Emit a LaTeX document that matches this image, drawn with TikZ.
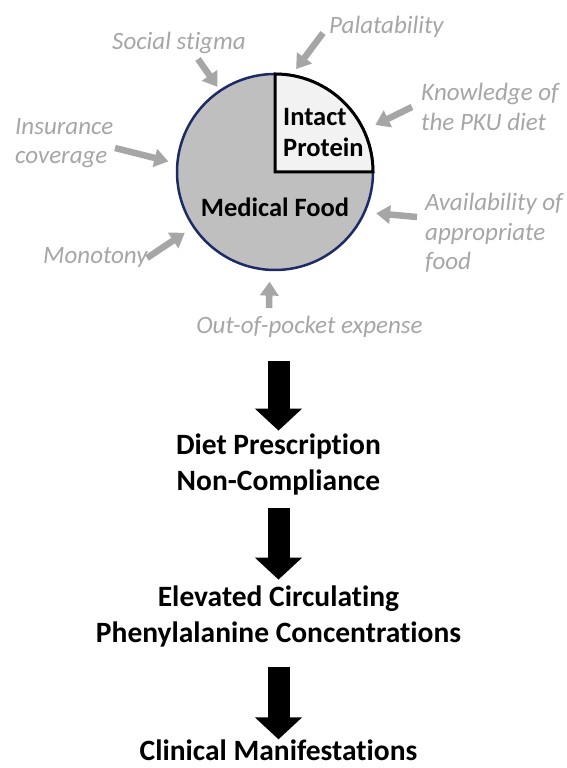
\documentclass[tikz,border=0pt]{standalone}
\usepackage{fontspec}
\setmainfont{Carlito}[Ligatures=NoCommon]
\usetikzlibrary{arrows.meta,positioning,calc}
\definecolor{ink}{HTML}{000000}
\definecolor{muted}{HTML}{A6A6A6}
\definecolor{piefill}{HTML}{BFBFBF}
\definecolor{pieedge}{HTML}{1C2B66}
\definecolor{protfill}{HTML}{F2F2F2}
\tikzset{
  figbase/.style={x=1pt, y=1pt, color=ink, line join=miter},
  factor/.style={
    font=\fontsize{25}{29.5}\selectfont\itshape,
    text=muted, align=left, inner sep=0pt, anchor=west,
  },
  factorarr/.style={-{Triangle[length=14pt,width=18pt]}, line width=6.5pt, draw=muted},
  pietext/.style={font=\fontsize{26.5}{31}\selectfont\bfseries, text=ink, inner sep=0pt},
  stage/.style={font=\fontsize{29.5}{36}\selectfont\bfseries, text=ink, align=center, inner sep=0pt},
  stagearr/.style={-{Triangle[length=22pt,width=46pt]}, line width=22pt, draw=ink},
}
\begin{document}
\begin{tikzpicture}[figbase]
  \useasboundingbox (0,0) rectangle (566,768);

  % pie of the diet
  \node[circle, draw=pieedge, fill=piefill, line width=2.5pt, minimum size=196pt] (pie) at (275,596) {};
  \draw[fill=protfill, draw=ink, line width=3pt] (pie.center) -- ++(0,98pt)
    arc[start angle=90, end angle=0, radius=98pt] -- cycle;
  \node[pietext, align=left, anchor=west] (prot) at (283,635.5) {Intact\\Protein};
  \node[pietext] (med) at (275,561) {Medical Food};

  % factors round the pie
  \node[factor] (pal) at (329,741) {Palatability};
  \node[factor] (soc) at (112,725) {Social stigma};
  \node[factor] (know) at (421,661) {Knowledge of\\the PKU diet};
  \node[factor] (ins) at (15,625) {Insurance\\coverage};
  \node[factor] (avail) at (425,535) {Availability of\\appropriate\\food};
  \node[factor] (mono) at (43,510) {Monotony};
  \node[factor, anchor=center] (oop) at (309.5,441) {Out-of-pocket expense};

  \coordinate (palt) at (323,735);
  \coordinate (soct) at (198,709);
  \coordinate (knowt) at (412,661);
  \coordinate (inst) at (115,620);
  \coordinate (availt) at (417,551);
  \coordinate (monot) at (147,510);
  \coordinate (oopt) at (269,460);

  \draw[factorarr, shorten >=6.5pt] (palt) -- (pie.80.8);
  \draw[factorarr, shorten >=3.5pt] (soct) -- (pie.124.3);
  \draw[factorarr, shorten >=11.5pt] (knowt) -- (pie.25);
  \draw[factorarr, shorten >=8pt] (inst) -- (pie.175.2);
  \draw[factorarr, shorten >=10.5pt] (availt) -- (pie.-24.2);
  \draw[factorarr, shorten >=9.5pt] (monot) -- (pie.214.1);
  \draw[factorarr, shorten >=10.5pt] (oopt) -- (pie.267);

  % consequences
  \node[stage] (diet) at (278.5,303.5) {Diet Prescription\\Non-Compliance};
  \node[stage] (phe) at (278.5,151.5) {Elevated Circulating\\Phenylalanine Concentrations};
  \node[stage] (clin) at (278.5,18) {Clinical Manifestations};

  \coordinate (dtop) at (diet.north |- oop.south);
  \draw[stagearr, shorten <=23pt, shorten >=3pt] (dtop) -- (diet.north);
  \draw[stagearr, shorten <=13pt, shorten >=6pt] (diet.south) -- (phe.north);
  \draw[stagearr, shorten <=20pt, shorten >=0pt] (phe.south) -- (clin.north);
\end{tikzpicture}
\end{document}
